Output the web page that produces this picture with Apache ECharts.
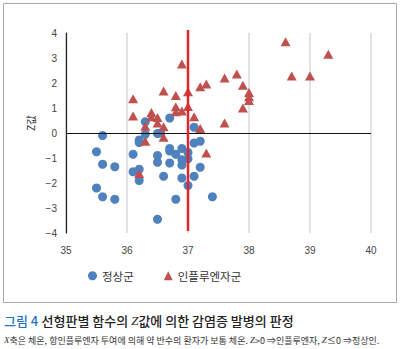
<!DOCTYPE html>
<html>
<head>
<meta charset="utf-8">
<script src="https://cdn.jsdelivr.net/npm/echarts@6/dist/echarts.min.js"></script>
<style>
  html, body { margin: 0; padding: 0; background: #fff; }
  #chart { width: 400px; height: 349px; }
</style>
</head>
<body>
<div id="chart"></div>
<script>
// Body temperature (°C) and discriminant score Z for each group
const normalTemp = [35.6, 35.5, 35.6, 35.8, 35.5, 35.6, 35.8, 36.1, 36.1, 36.2, 36.2, 36.2, 36.2, 36.3, 36.3, 36.5, 36.55, 36.7, 36.5, 36.5,
                    36.7, 36.7, 36.8, 36.9, 37.0, 36.7, 36.9, 36.9, 37.0, 37.2, 36.6, 36.9, 37.1, 37.0, 36.8, 37.4, 36.5, 37.1, 37.1, 37.2];
const normalZ    = [-0.1, -0.75, -1.25, -1.35, -2.2, -2.55, -2.65, -0.85, -1.55, -1.45, -1.9, -0.28, -0.38, -0.05, 0.45, -0.02, 0.0, 0.6, -0.9, -1.17,
                    -0.62, -0.72, -0.85, -0.62, -0.78, -1.2, -1.07, -1.28, -1.03, -1.37, -1.73, -1.8, -1.73, -2.1, -2.65, -2.55, -3.45, 0.23, -0.4, -0.33];
const fluTemp    = [38.6, 39.3, 38.7, 39.0, 37.8, 37.6, 37.2, 37.3, 37.9, 38.0, 38.0, 38.0, 37.9, 37.6, 37.1, 37.2, 36.9, 37.0, 37.0, 36.9,
                    36.1, 36.1, 36.6, 36.8, 36.8, 36.8, 36.4, 36.4, 36.5, 36.5, 36.3, 36.6, 36.3, 36.6, 36.2, 37.3];
const fluZ       = [3.65, 3.15, 2.28, 2.28, 2.36, 2.2, 1.85, 1.96, 1.91, 1.62, 1.45, 1.3, 1.0, 0.4, 0.65, 0.18, 2.76, 1.65, 1.06, 0.88,
                    1.37, 0.68, 1.68, 1.5, 1.05, 0.85, 0.82, 0.65, 0.62, 0.4, 0.27, 0.25, -0.33, -0.17, -1.62, -0.8];

const seriesNames = ['정상군', '인플루엔자군'];
const xTickLabels = ['35', '36', '37', '38', '39', '40'];
const yTickLabels = ['-4', '-3', '-2', '-1', '0', '1', '2', '3', '4'];
const thresholdTemp = 37;          // vertical reference line
const thresholdSpan = [4.12, -3.92];

const zip = (a, b) => a.map((v, i) => [v, b[i]]);
const xMin = Number(xTickLabels[0]), xMax = Number(xTickLabels[xTickLabels.length - 1]);
const yMin = Number(yTickLabels[0]), yMax = Number(yTickLabels[yTickLabels.length - 1]);

const chart = echarts.init(document.getElementById('chart'), null, { renderer: 'svg' });
const tickFont = 'Liberation Sans, Arial, sans-serif';
const krFont = '"Noto Sans CJK KR", "Noto Sans", sans-serif';

chart.setOption({
  animation: false,
  backgroundColor: '#fff',
  grid: { left: 66, top: 33, width: 305, height: 200, containLabel: false },
  xAxis: {
    type: 'value', min: xMin, max: xMax, interval: 1,
    axisLine: { show: false }, axisTick: { show: false },
    axisLabel: { margin: 12, fontSize: 10, color: '#444', fontFamily: tickFont },
    splitLine: { show: true, lineStyle: { color: '#d9d9d9', width: 1.5 } }
  },
  yAxis: {
    type: 'value', min: yMin, max: yMax, interval: 1,
    axisLine: { show: true, onZero: false, lineStyle: { color: '#222', width: 1.2 } },
    axisTick: { show: false },
    axisLabel: { margin: 9, fontSize: 10, color: '#444', fontFamily: tickFont,
                 formatter: v => String(v).replace('-', '−') },
    splitLine: { show: false }
  },
  legend: {
    left: 83, top: 265, itemWidth: 9, itemHeight: 9, itemGap: 30,
    textStyle: { fontSize: 11.5, color: '#333', fontFamily: krFont },
    data: [{ name: seriesNames[0], icon: 'circle' }, { name: seriesNames[1], icon: 'triangle' }]
  },
  series: [
    {
      name: seriesNames[0], type: 'scatter', symbol: 'circle', symbolSize: 9,
      itemStyle: { color: '#4f81bd', opacity: 1 }, z: 3,
      data: zip(normalTemp, normalZ),
      markLine: {
        silent: true, symbol: 'none', label: { show: false },
        lineStyle: { color: '#111', width: 1.2, type: 'solid' },
        data: [{ yAxis: 0 }]
      }
    },
    {
      name: seriesNames[1], type: 'scatter', symbol: 'triangle', symbolSize: [10, 9],
      itemStyle: { color: '#c0504d', opacity: 1 }, z: 4,
      data: zip(fluTemp, fluZ)
    },
    {
      type: 'line', clip: false, symbol: 'none', silent: true, z: 6,
      lineStyle: { color: '#e0262b', width: 2.5 },
      data: thresholdSpan.map(z => [thresholdTemp, z])
    }
  ],
  graphic: [
    { type: 'rect', shape: { x: 3.5, y: 3.5, width: 393, height: 299 },
      style: { fill: 'none', stroke: '#a8a8a8', lineWidth: 1 }, silent: true },
    { type: 'text', x: 30, y: 123, rotation: Math.PI / 2,
      style: { text: 'Z값', fontSize: 10.5, fill: '#333', fontFamily: krFont,
               align: 'center', verticalAlign: 'middle' } },
    { type: 'text', x: 4, y: 320,
      style: {
        text: '{b|그림 4} {t|선형판별 함수의 }{i|Z}{t|값에 의한 감염증 발병의 판정}',
        verticalAlign: 'middle',
        rich: {
          b: { fontSize: 13, fill: '#1f73c2', fontFamily: krFont, fontWeight: 500 },
          t: { fontSize: 13, fill: '#222', fontFamily: krFont, fontWeight: 500 },
          i: { fontSize: 13, fill: '#222', fontFamily: 'Liberation Serif, serif', fontStyle: 'italic' }
        }
      } },
    { type: 'text', x: 4, y: 340,
      style: {
        text: '{i|X}{t|축은 체온, 항인플루엔자 투여에 의해 약 반수의 환자가 보통 체온. }{i|Z}{t|>0 ⇒인플루엔자, }{i|Z}{t|≤0 ⇒정상인.}',
        verticalAlign: 'middle',
        rich: {
          t: { fontSize: 9, fill: '#333', fontFamily: krFont },
          i: { fontSize: 9, fill: '#333', fontFamily: 'Liberation Serif, serif', fontStyle: 'italic' }
        }
      } }
  ]
});
</script>
</body>
</html>
